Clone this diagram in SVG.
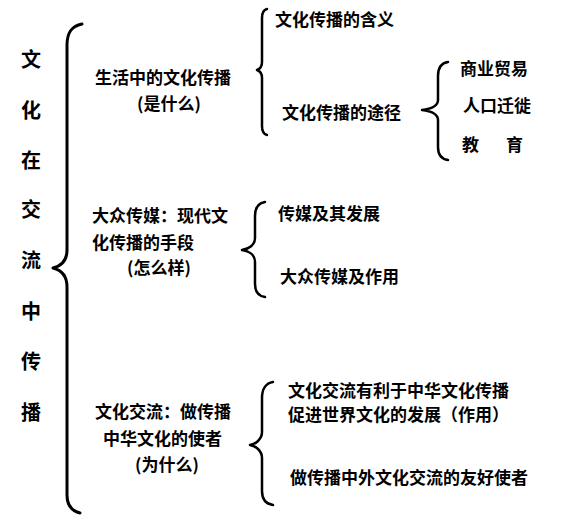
<svg xmlns="http://www.w3.org/2000/svg" width="563" height="521" viewBox="0 0 563 521">
<style>
text{font-family:"Noto Sans CJK SC","Noto Sans",sans-serif;font-weight:700;fill:#000;font-size:17px}
.big{font-size:20px;text-anchor:middle}
.brace{fill:none;stroke:#000;stroke-linecap:round;stroke-linejoin:round}
.b1{stroke-width:3}
.b2{stroke-width:2.5}
</style>
<rect width="563" height="521" fill="#fff"/>
<g id="connectors">
<path class="brace b1" d="M82,24 C72,26 67,32 67,45 L67,250 C67,261 61,266 53,268 C61,270 67,275 67,287 L67,495 C67,505 72,511 80,513"/>
<path class="brace b2" d="M267,9 C263,10 262,13 262,18 L262,62 C262,67 260,69 257,70 C260,71 262,73 262,78 L262,126 C262,131 263,134 267,135"/>
<path class="brace b2" d="M448,62 C441,63 438,68 438,76 L438,100 C438,106 430,109 422,110 C430,111 438,114 438,120 L438,147 C438,155 441,159 448,160"/>
<path class="brace b2" d="M265,202 C258,203 255,208 255,216 L255,238 C255,245 249,249 242,250 C249,251 255,255 255,262 L255,284 C255,292 258,296 265,297"/>
<path class="brace b2" d="M273,382 C266,383 262,389 262,398 L262,432 C262,439 256,444 250,445 C256,446 262,451 262,458 L262,491 C262,500 266,504 273,505"/>
</g>
<g id="root">
<text class="big" x="31" y="67">文</text>
<text class="big" x="31" y="118">化</text>
<text class="big" x="31" y="168">在</text>
<text class="big" x="31" y="217">交</text>
<text class="big" x="31" y="268">流</text>
<text class="big" x="31" y="319">中</text>
<text class="big" x="31" y="369">传</text>
<text class="big" x="31" y="420">播</text>
</g>
<g id="node-life">
<text x="95" y="84">生活中的文化传播</text>
<text x="137" y="110">(是什么)</text>
</g>
<g id="node-meaning"><text x="275" y="26">文化传播的含义</text></g>
<g id="node-ways"><text x="282" y="119">文化传播的途径</text></g>
<g id="node-trade"><text x="460" y="75">商业贸易</text></g>
<g id="node-migration"><text x="463" y="112">人口迁徙</text></g>
<g id="node-education"><text x="462" y="151">教 <tspan x="506">育</tspan></text></g>
<g id="node-media">
<text x="92" y="222">大众传媒：现代文</text>
<text x="92" y="249">化传播的手段</text>
<text x="127" y="274">(怎么样)</text>
</g>
<g id="node-media-dev"><text x="278" y="220">传媒及其发展</text></g>
<g id="node-media-role"><text x="280" y="283">大众传媒及作用</text></g>
<g id="node-exchange">
<text x="95" y="418">文化交流：做传播</text>
<text x="103" y="445">中华文化的使者</text>
<text x="135" y="471">(为什么)</text>
</g>
<g id="node-exchange-role">
<text x="288" y="397">文化交流有利于中华文化传播</text>
<text x="288" y="421">促进世界文化的发展（作用）</text>
</g>
<g id="node-envoy"><text x="290" y="484">做传播中外文化交流的友好使者</text></g>
</svg>
